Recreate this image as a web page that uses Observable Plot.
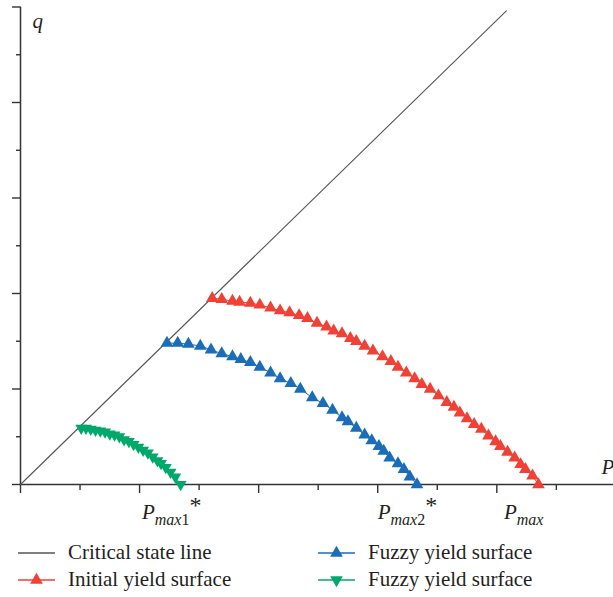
<!DOCTYPE html>
<html><head><meta charset="utf-8">
<script src="https://cdn.jsdelivr.net/npm/d3@7"></script>
<script src="https://cdn.jsdelivr.net/npm/@observablehq/plot@0.6"></script>
<style>
body{margin:0;background:#fff;}
#wrap{position:relative;width:613px;height:597px;overflow:hidden;background:#fff;}
svg{display:block;}
</style></head><body><div id="wrap"></div>
<script>
// ---- data ----
const cslP = [0, 4.08];
const cslQ = [0, 4.96];

const initialP = [1.61, 1.69, 1.78, 1.84, 1.93, 2.01, 2.10, 2.18, 2.26, 2.34, 2.41, 2.49, 2.57, 2.63, 2.70, 2.77, 2.82, 2.89, 2.96, 3.04, 3.11, 3.17, 3.24, 3.31, 3.37, 3.44, 3.51, 3.58, 3.64, 3.69, 3.75, 3.81, 3.87, 3.93, 3.99, 4.03, 4.09, 4.15, 4.20, 4.24, 4.30, 4.35];
const initialQ = [1.95, 1.94, 1.92, 1.91, 1.90, 1.88, 1.85, 1.82, 1.80, 1.77, 1.74, 1.69, 1.65, 1.61, 1.58, 1.53, 1.50, 1.45, 1.40, 1.34, 1.29, 1.23, 1.17, 1.11, 1.05, 1.00, 0.93, 0.86, 0.81, 0.75, 0.69, 0.63, 0.58, 0.51, 0.45, 0.40, 0.34, 0.28, 0.21, 0.16, 0.09, 0.00];

const fuzzy2P = [1.23, 1.32, 1.41, 1.51, 1.60, 1.69, 1.78, 1.85, 1.93, 2.01, 2.10, 2.18, 2.27, 2.35, 2.45, 2.54, 2.62, 2.70, 2.75, 2.82, 2.89, 2.95, 3.01, 3.05, 3.10, 3.17, 3.22, 3.27, 3.33];
const fuzzy2Q = [1.48, 1.48, 1.47, 1.45, 1.41, 1.37, 1.34, 1.31, 1.28, 1.23, 1.17, 1.11, 1.06, 1.00, 0.91, 0.85, 0.78, 0.70, 0.66, 0.59, 0.52, 0.46, 0.40, 0.35, 0.28, 0.22, 0.16, 0.08, 0.00];

const fuzzy1P = [0.51, 0.55, 0.59, 0.63, 0.67, 0.71, 0.75, 0.79, 0.83, 0.87, 0.91, 0.95, 0.99, 1.03, 1.07, 1.11, 1.15, 1.18, 1.22, 1.26, 1.30, 1.345];
const fuzzy1Q = [0.59, 0.59, 0.58, 0.57, 0.56, 0.55, 0.53, 0.52, 0.50, 0.47, 0.45, 0.42, 0.39, 0.36, 0.33, 0.29, 0.25, 0.22, 0.18, 0.13, 0.08, 0.00];

const xMajorTicks = [0, 1, 2, 3, 4];
const xMinorTicks = [0.5, 1.5, 2.5, 3.5, 4.5];
const yMajorTicks = [0, 1, 2, 3, 4, 5];
const yMinorTicks = [0.5, 1.5, 2.5, 3.5, 4.5];

const pLabelAt = [1.02, 3.0, 4.06];
const pLabelMain = ["P", "P", "P"];
const pLabelSub = ["max1", "max2", "max"];
const pLabelSup = ["*", "*", ""];

const legendNames = ["Critical state line", "Initial yield surface", "Fuzzy yield surface", "Fuzzy yield surface"];

// ---- styles ----
const FONT = "'Liberation Serif', 'DejaVu Serif', serif";
const C_AXIS = "#333333", C_CSL = "#555555";
const C_RED = "#ef4136", C_BLUE = "#1b6db8", C_GREEN = "#00a86b";
const R = 4.7;

const rows = (P, Q) => P.map((p, i) => ({p, q: Q[i]}));
const csl = rows(cslP, cslQ);
const initial = rows(initialP, initialQ);
const fuzzy2 = rows(fuzzy2P, fuzzy2Q);
const fuzzy1 = rows(fuzzy1P, fuzzy1Q);
const pLabels = pLabelAt.map((x, i) => ({x, t: pLabelMain[i] + pLabelSub[i] + pLabelSup[i]}));

const chart = Plot.plot({
  width: 613, height: 530,
  marginLeft: 20, marginRight: 0, marginTop: 6.5, marginBottom: 46,
  x: {domain: [0, 4.98], label: null},
  y: {domain: [0, 5], label: null},
  style: {background: "#fff", color: C_AXIS, fontFamily: FONT, fontSize: "20px", overflow: "visible"},
  marks: [
    Plot.axisX({ticks: xMajorTicks, tickSize: 9, tickFormat: () => "", strokeWidth: 1.4, label: null}),
    Plot.axisX({ticks: xMinorTicks, tickSize: 6, tickFormat: () => "", strokeWidth: 1.4, label: null}),
    Plot.axisY({ticks: yMajorTicks, tickSize: 8, tickFormat: () => "", strokeWidth: 1.4, label: null}),
    Plot.axisY({ticks: yMinorTicks, tickSize: 4, tickFormat: () => "", strokeWidth: 1.4, label: null}),
    Plot.ruleX([0], {stroke: C_AXIS, strokeWidth: 1.5}),
    Plot.ruleY([0], {stroke: C_AXIS, strokeWidth: 1.5}),
    Plot.line(csl, {x: "p", y: "q", stroke: C_CSL, strokeWidth: 1.1}),
    Plot.line(initial, {x: "p", y: "q", stroke: C_RED, strokeWidth: 1}),
    Plot.line(fuzzy2, {x: "p", y: "q", stroke: C_BLUE, strokeWidth: 1}),
    Plot.line(fuzzy1, {x: "p", y: "q", stroke: C_GREEN, strokeWidth: 1}),
    Plot.dot(initial, {x: "p", y: "q", symbol: "triangle", r: R, fill: C_RED, stroke: "none"}),
    Plot.dot(fuzzy2, {x: "p", y: "q", symbol: "triangle", r: R, fill: C_BLUE, stroke: "none"}),
    Plot.dot(fuzzy1, {x: "p", y: "q", symbol: "triangle", rotate: 180, r: 4.4, fill: C_GREEN, stroke: "none"}),
    Plot.text(pLabels, {x: "x", y: () => 0, text: "t", textAnchor: "start", lineAnchor: "bottom", dy: 34, fill: "#231f20", fontSize: 21}),
    Plot.text(["q"], {frameAnchor: "top-left", text: d => d, textAnchor: "start", lineAnchor: "bottom", dx: 12, dy: 21, fill: "#231f20", fontStyle: "italic", fontSize: 21}),
    Plot.text(["P"], {frameAnchor: "bottom-right", text: d => d, textAnchor: "start", lineAnchor: "bottom", dx: -12, dy: -11, fill: "#231f20", fontStyle: "italic", fontSize: 21})
  ]
});

// sub/superscript formatting of the P labels
d3.select(chart).selectAll("text").each(function () {
  const i = pLabels.findIndex(d => d.t === this.textContent);
  if (i < 0) return;
  const sel = d3.select(this);
  sel.text(null);
  sel.append("tspan").attr("font-style", "italic").text(pLabelMain[i]);
  const letters = pLabelSub[i].replace(/\d/g, ""), digits = pLabelSub[i].replace(/\D/g, "");
  sel.append("tspan").attr("font-style", "italic").attr("font-size", 16).attr("dy", 6).text(letters);
  if (digits) sel.append("tspan").attr("font-size", 16).text(digits);
  if (pLabelSup[i]) sel.append("tspan").attr("font-size", 24).attr("dx", 0).attr("dy", -12).text(pLabelSup[i]);
});

document.getElementById("wrap").appendChild(chart);

// ---- legend below the chart ----
const leg = d3.create("svg").attr("width", 613).attr("height", 67)
  .style("font-family", FONT).style("font-size", "21px");
const items = [
  {name: legendNames[0], color: C_CSL, sym: null, x: 18, y: 23},
  {name: legendNames[1], color: C_RED, sym: "up", x: 18, y: 50},
  {name: legendNames[2], color: C_BLUE, sym: "up", x: 318, y: 23},
  {name: legendNames[3], color: C_GREEN, sym: "down", x: 318, y: 50}
];
const tri = d3.symbol(d3.symbolTriangle, Math.PI * R * R)();
items.forEach(it => {
  const g = leg.append("g");
  g.append("line").attr("x1", it.x).attr("x2", it.x + 37).attr("y1", it.y).attr("y2", it.y)
    .attr("stroke", it.color).attr("stroke-width", 1.3);
  if (it.sym) {
    g.append("path").attr("d", tri).attr("fill", it.color)
      .attr("transform", `translate(${it.x + 18.5},${it.y})` + (it.sym === "down" ? " rotate(180)" : ""));
  }
  g.append("text").attr("x", it.x + 50).attr("y", it.y + 6).attr("fill", "#231f20").text(it.name);
});
document.getElementById("wrap").appendChild(leg.node());
</script>
</body></html>
